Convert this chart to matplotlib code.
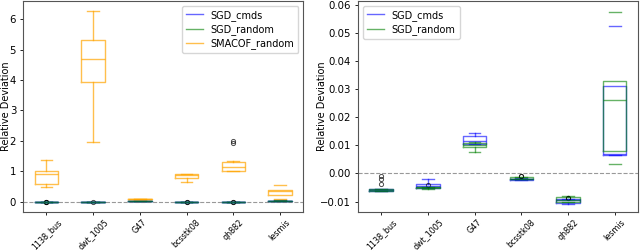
import matplotlib
matplotlib.use("Agg")
import matplotlib.pyplot as plt
from matplotlib.lines import Line2D

datasets = ["1138_bus", "dwt_1005", "G47", "bcsstk08", "qh882", "lesmis"]

# box stats per dataset: whisker low, q1, median, q3, whisker high
sgd_cmds_whislo = [-0.0064, -0.0052, 0.0105, -0.0025, -0.0107, 0.0065]
sgd_cmds_q1 = [-0.0063, -0.0051, 0.0106, -0.0024, -0.0106, 0.0065]
sgd_cmds_med = [-0.0060, -0.0045, 0.0114, -0.0020, -0.0096, 0.0068]
sgd_cmds_q3 = [-0.0057, -0.0039, 0.0133, -0.0018, -0.0092, 0.0312]
sgd_cmds_whishi = [-0.0055, -0.0021, 0.0144, -0.0016, -0.0090, 0.0526]
sgd_cmds_fliers = [[-0.0039, -0.0021, -0.0010], [], [], [-0.0008], [-0.0086], []]

sgd_random_whislo = [-0.0063, -0.0054, 0.0077, -0.0021, -0.0101, 0.0034]
sgd_random_q1 = [-0.0062, -0.0053, 0.0094, -0.0020, -0.0100, 0.0080]
sgd_random_med = [-0.0059, -0.0050, 0.0103, -0.0019, -0.0095, 0.0262]
sgd_random_q3 = [-0.0055, -0.0048, 0.0108, -0.0014, -0.0083, 0.0330]
sgd_random_whishi = [-0.0054, -0.0047, 0.0112, -0.0012, -0.0082, 0.0575]
sgd_random_fliers = [[], [-0.0040], [], [-0.0008], [-0.0086], []]

smacof_whislo = [0.49, 1.97, 0.07, 0.65, 1.00, 0.10]
smacof_q1 = [0.58, 3.95, 0.075, 0.77, 1.00, 0.21]
smacof_med = [0.91, 4.68, 0.08, 0.86, 1.14, 0.36]
smacof_q3 = [1.02, 5.31, 0.085, 0.90, 1.29, 0.38]
smacof_whishi = [1.37, 6.26, 0.09, 0.91, 1.33, 0.55]
smacof_fliers = [[], [], [], [], [1.93, 1.99], []]

SGD_CMDS = ("SGD_cmds", "blue", sgd_cmds_whislo, sgd_cmds_q1, sgd_cmds_med,
            sgd_cmds_q3, sgd_cmds_whishi, sgd_cmds_fliers)
SGD_RANDOM = ("SGD_random", "green", sgd_random_whislo, sgd_random_q1,
              sgd_random_med, sgd_random_q3, sgd_random_whishi, sgd_random_fliers)
SMACOF = ("SMACOF_random", "orange", smacof_whislo, smacof_q1, smacof_med,
          smacof_q3, smacof_whishi, smacof_fliers)

FS = 7.3


def make_stats(whislo, q1, med, q3, whishi, fliers):
    stats = []
    for i in range(len(datasets)):
        stats.append({"whislo": whislo[i], "q1": q1[i], "med": med[i],
                      "q3": q3[i], "whishi": whishi[i], "fliers": fliers[i],
                      "label": datasets[i]})
    return stats


def draw_series(ax, series):
    name, color, *values = series
    alpha = 0.7 if color == "orange" else 0.6
    line = dict(color=color, alpha=alpha, linewidth=1.0)
    res = ax.bxp(make_stats(*values), positions=range(1, len(datasets) + 1),
                 widths=0.5, boxprops=line, whiskerprops=line, capprops=line,
                 medianprops=line,
                 flierprops=dict(marker="o", markeredgecolor="black",
                                 markerfacecolor="none", markersize=3,
                                 markeredgewidth=0.7, alpha=0.7),
                 manage_ticks=False)
    # lesmis whiskers are not visible in the original
    for w in res["whiskers"][10:12]:
        w.set_visible(False)
    return Line2D([], [], color=color, alpha=alpha, linewidth=1.0, label=name)


def style_axis(ax, label_x):
    ax.axhline(0, color="gray", linestyle="--", linewidth=0.8, alpha=0.8)
    ax.set_xlim(0.5, len(datasets) + 0.5)
    ax.set_xticks(range(1, len(datasets) + 1))
    ax.set_xticklabels(datasets, rotation=45, fontsize=5.8)
    ax.tick_params(axis="y", labelsize=FS, pad=2.5)
    ax.tick_params(axis="x", pad=1.5)
    ax.tick_params(length=2.5, width=0.6)
    ax.set_ylabel("Relative Deviation", fontsize=7)
    ax.yaxis.set_label_coords(label_x, 0.5)
    for s in ax.spines.values():
        s.set_color("#555555")


def main():
    fig = plt.figure(figsize=(6.4, 2.52), dpi=100)
    ax1 = fig.add_axes([0.036, 0.159, 0.438, 0.837])
    ax2 = fig.add_axes([0.559, 0.159, 0.438, 0.837])

    legend_opts = dict(fontsize=7, handlelength=1.8, labelspacing=0.35,
                       borderpad=0.4, handletextpad=0.8)

    handles = [draw_series(ax1, s) for s in (SGD_CMDS, SGD_RANDOM, SMACOF)]
    style_axis(ax1, -0.043)
    ax1.set_ylim(-0.34, 6.6)
    ax1.set_yticks([0, 1, 2, 3, 4, 5, 6])
    ax1.legend(handles=handles, loc="upper right", **legend_opts)

    handles = [draw_series(ax2, s) for s in (SGD_CMDS, SGD_RANDOM)]
    style_axis(ax2, -0.11)
    ax2.set_ylim(-0.0137, 0.0614)
    ax2.set_yticks([-0.01, 0.0, 0.01, 0.02, 0.03, 0.04, 0.05, 0.06])
    ax2.legend(handles=handles, loc="upper left", **legend_opts)

    fig.savefig("out.png", dpi=100)


if __name__ == "__main__":
    main()
